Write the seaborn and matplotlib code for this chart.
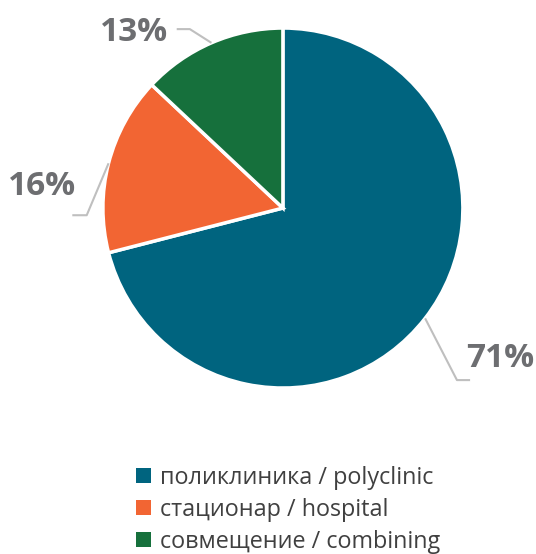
import numpy as np
import matplotlib
matplotlib.use("Agg")
import matplotlib.pyplot as plt
import seaborn as sns
from matplotlib.patches import Patch

categories = ["поликлиника / polyclinic", "стационар / hospital", "совмещение / combining"]
values = [71, 16, 13]
pct_labels = ["71%", "16%", "13%"]
colors = ["#00647f", "#f26533", "#16703c"]

sns.set_theme(style="white")
plt.rcParams["font.family"] = ["Open Sans", "DejaVu Sans"]

fig = plt.figure(figsize=(5.36, 5.54), dpi=100)
ax = fig.add_axes([0.192, 0.2995, 0.6716, 0.65])
wedges, _ = ax.pie(values, colors=colors, startangle=90, counterclock=False,
                   wedgeprops=dict(edgecolor="white", linewidth=2.5), radius=1.0)
ax.set_xlim(-1, 1)
ax.set_ylim(-1, 1)
ax.set_aspect("equal")
ax.axis("off")

# leader line layout (elbow, end, text anchor) in data units
layout = [
    dict(elbow=(0.967, -0.956), end=(1.04, -0.956), text=(1.02, -0.925), ha="left", va="bottom"),
    dict(elbow=(-1.09, -0.04), end=(-1.17, -0.04), text=(-1.15, 0.12), ha="right", va="center"),
    dict(elbow=(-0.517, 0.994), end=(-0.59, 0.994), text=(-0.64, 0.975), ha="right", va="center"),
]
for w, lab, lay in zip(wedges, pct_labels, layout):
    mid = np.deg2rad((w.theta1 + w.theta2) / 2)
    sx, sy = np.cos(mid) * w.r, np.sin(mid) * w.r
    ex, ey = lay["elbow"]
    fx, fy = lay["end"]
    ax.plot([sx, ex, fx], [sy, ey, fy], color="#bfbfbf", lw=1.5, clip_on=False,
            solid_capstyle="butt")
    ax.text(lay["text"][0], lay["text"][1], lab, ha=lay["ha"], va=lay["va"],
            fontsize=24, fontweight="bold", color="#6d6e71")

handles = [Patch(facecolor=c, edgecolor="none") for c in colors]
fig.legend(handles, categories, loc="upper left", bbox_to_anchor=(0.254, 0.159),
           frameon=False, fontsize=16.8, handlelength=0.64, handleheight=0.64,
           handletextpad=0.39, labelspacing=0.34, borderaxespad=0, borderpad=0,
           labelcolor="#404040")

fig.savefig("out.png", dpi=100)
